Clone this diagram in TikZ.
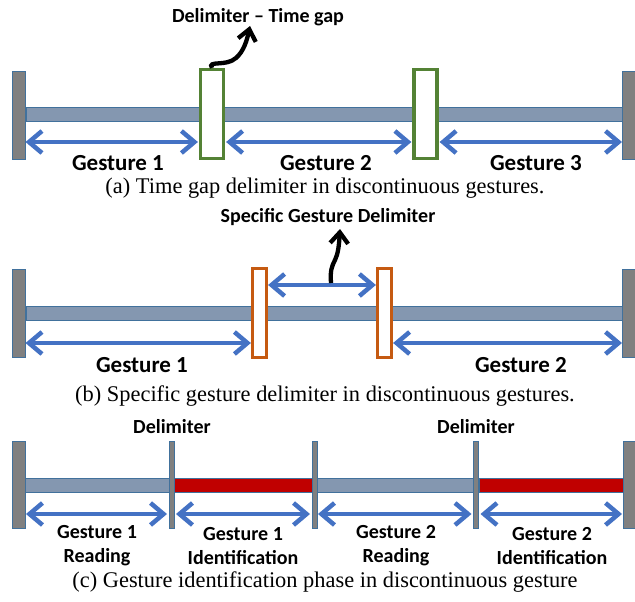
\documentclass[tikz,border=0pt]{standalone}
\usepackage{fontspec}
\setmainfont{Liberation Serif}
\newfontfamily\labfont{Carlito}
\usetikzlibrary{arrows.meta}
\definecolor{trackc}{RGB}{132,151,176}
\definecolor{barline}{RGB}{65,113,156}
\definecolor{endgray}{RGB}{128,128,128}
\definecolor{arrowblue}{RGB}{68,114,196}
\definecolor{dgreen}{RGB}{84,130,53}
\definecolor{dorange}{RGB}{197,90,17}
\definecolor{dred}{RGB}{192,0,0}
\tikzset{
  endbar/.style={draw=barline, fill=endgray, line width=0.8pt, minimum width=13pt, minimum height=88pt, inner sep=0pt, outer sep=0pt},
  thinbar/.style={draw=barline, fill=endgray, line width=0.6pt, minimum width=5pt, minimum height=87pt, inner sep=0pt, outer sep=0pt},
  track/.style={draw=barline, fill=trackc, line width=0.8pt, minimum height=14pt, inner sep=0pt, outer sep=0pt},
  redtrack/.style={draw=barline, fill=dred, line width=0.8pt, minimum height=14pt, inner sep=0pt, outer sep=0pt},
  gbox/.style={draw=dgreen, fill=white, line width=3.2pt, minimum width=23pt, minimum height=89pt, inner sep=0pt, outer sep=1.6pt},
  obox/.style={draw=dorange, fill=white, line width=3.2pt, minimum width=14pt, minimum height=89pt, inner sep=0pt, outer sep=1.6pt},
  garrow/.style={draw=arrowblue, line width=4.5pt, {Straight Barb[length=13pt,width=22pt]}-{Straight Barb[length=13pt,width=22pt]}},
  karrow/.style={draw=black, line width=4.3pt, -{Straight Barb[length=11pt,width=18pt]}},
  biglbl/.style={font=\labfont\bfseries\fontsize{23}{27}\selectfont, inner sep=0pt},
  lbl/.style={font=\labfont\bfseries\fontsize{20}{23}\selectfont, inner sep=0pt, align=center},
  caption/.style={font=\fontsize{22.4}{26}\selectfont, inner sep=0pt},
}
\begin{document}
\begin{tikzpicture}[x=1pt,y=-1pt]
\useasboundingbox (0,0) rectangle (635,602);

% ---------- panel (a) ----------
\node[track, minimum width=596pt] (ta) at (324,114.5) {};
\node[endbar] (la) at (19,115) {};
\node[endbar] (ra) at (628.5,115) {};
\node[gbox] (ga1) at (212,114) {};
\node[gbox] (ga2) at (425.5,114) {};
\coordinate (ya) at (0,142);
\draw[garrow] (la.east |- ya) -- ([xshift=-1pt]ga1.west |- ya);
\draw[garrow] ([xshift=1pt]ga1.east |- ya) -- ([xshift=-1pt]ga2.west |- ya);
\draw[garrow] ([xshift=1pt]ga2.east |- ya) -- (ra.west |- ya);
\node[biglbl] (g1a) at (118,163) {Gesture 1};
\node[biglbl] (g2a) at (326,163) {Gesture 2};
\node[biglbl] (g3a) at (536,163) {Gesture 3};
\node[lbl] (dta) at (258,17) {Delimiter – Time gap};
\coordinate (tipa) at (250,26);
\draw[karrow] (ga1.north) .. controls (207,60) and (226,67) .. (236,58) .. controls (244,51) and (247,40) .. (tipa);
\node[caption] (capa) at (325,188) {(a) Time gap delimiter in discontinuous gestures.};

% ---------- panel (b) ----------
\node[track, minimum width=596pt] (tb) at (324,313) {};
\node[endbar] (lb) at (19,313.5) {};
\node[endbar] (rb) at (628.5,313.5) {};
\node[obox] (ob1) at (259.5,313) {};
\node[obox] (ob2) at (384.5,313) {};
\coordinate (yb) at (0,343);
\coordinate (yt) at (0,285);
\draw[garrow] (lb.east |- yb) -- (ob1.west |- yb);
\draw[garrow] (ob2.east |- yb) -- (rb.west |- yb);
\draw[garrow] (ob1.east |- yt) -- (ob2.west |- yt);
\node[biglbl] (g1b) at (142,365) {Gesture 1};
\node[biglbl] (g2b) at (521,365) {Gesture 2};
\node[lbl] (sgd) at (328,217) {Specific Gesture Delimiter};
\coordinate (sb) at (331,283);
\coordinate (tipb) at (340,229);
\draw[karrow] (sb) .. controls (330,270) and (332,266) .. (335,260) .. controls (338,254) and (339,246) .. (tipb);
\node[caption] (capb) at (325,396) {(b) Specific gesture delimiter in discontinuous gestures.};

% ---------- panel (c) ----------
\node[track, minimum width=144pt] (s1) at (97,485) {};
\node[redtrack, minimum width=138pt] (s2) at (243,485) {};
\node[track, minimum width=156pt] (s3) at (395,485) {};
\node[redtrack, minimum width=144pt] (s4) at (551,485) {};
\node[endbar, minimum height=87pt] (lc) at (18.5,484.5) {};
\node[endbar, minimum width=12pt, minimum height=87pt] (rc) at (629,484.5) {};
\node[thinbar] (d1) at (171.5,484.5) {};
\node[thinbar] (d2) at (314.5,484.5) {};
\node[thinbar] (d3) at (476,484.5) {};
\coordinate (yc) at (0,514);
\draw[garrow] ([xshift=1pt]lc.east |- yc) -- ([xshift=-2pt]d1.west |- yc);
\draw[garrow] ([xshift=2pt]d1.east |- yc) -- ([xshift=-2pt]d2.west |- yc);
\draw[garrow] ([xshift=1pt]d2.east |- yc) -- ([xshift=-2pt]d3.west |- yc);
\draw[garrow] ([xshift=2pt]d3.east |- yc) -- ([xshift=-1pt]rc.west |- yc);
\node[lbl] (dl1) at (172,427) {Delimiter};
\node[lbl] (dl2) at (476,427) {Delimiter};
\node[lbl] (l1) at (97,546) {Gesture 1\\[1pt]Reading};
\node[lbl] (l2) at (243,546) {Gesture 1\\[1pt]Identification};
\node[lbl] (l3) at (396,546) {Gesture 2\\[1pt]Reading};
\node[lbl] (l4) at (552,546) {Gesture 2\\[1pt]Identification};
\node[caption] (capc) at (325,582) {(c) Gesture identification phase in discontinuous gesture};
\end{tikzpicture}
\end{document}
